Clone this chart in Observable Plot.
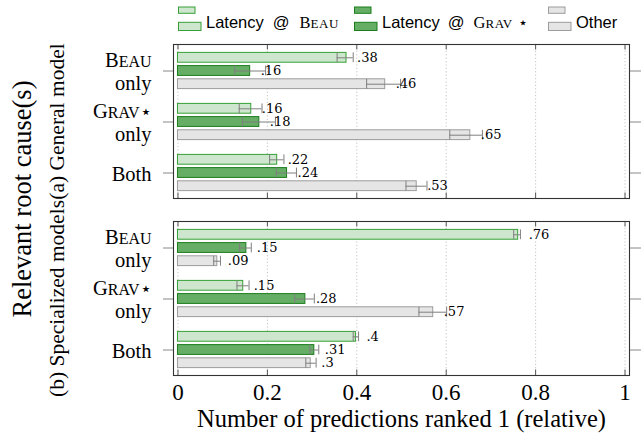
<!DOCTYPE html>
<html><head><meta charset="utf-8">
<script src="https://cdn.jsdelivr.net/npm/d3@7"></script>
<script src="https://cdn.jsdelivr.net/npm/@observablehq/plot@0.6"></script>
<style>
body{margin:0;background:#fff;}
#wrap{position:relative;width:644px;height:439px;overflow:hidden;}
#legend{position:absolute;left:0;top:0;width:644px;height:36px;}
.lg{position:absolute;top:0;white-space:nowrap;font-family:"Liberation Sans",sans-serif;font-size:16.5px;line-height:1;}
.sc{font-family:"Liberation Serif",serif;}
.sc small{font-size:13px;letter-spacing:0.5px;}
</style></head><body>
<div id="wrap"><div id="chart"></div><div id="legend"></div></div>
<script>
// ---- data ----
const panels = ["(a) General model", "(b) Specialized models"];
const groups = ["Beau only", "Grav only", "Both"];
const yTickLabels = ["Beau\nonly", "Grav\u22C6\nonly", "Both"];
const seriesNames = ["Latency @ Beau", "Latency @ Grav", "Other"];
const xTicks = [0, 0.2, 0.4, 0.6, 0.8, 1];
const xTickLabels = ["0", "0.2", "0.4", "0.6", "0.8", "1"];

// (a) General model: one entry per group (Beau only, Grav only, Both)
const generalBeau = [0.377, 0.164, 0.222];
const generalBeauErr = [[0.356, 0.392], [0.137, 0.188], [0.205, 0.237]];
const generalBeauLabels = [".38", ".16", ".22"];
const generalGrav = [0.1615, 0.182, 0.244];
const generalGravErr = [[0.127, 0.196], [0.144, 0.218], [0.220, 0.265]];
const generalGravLabels = [".16", ".18", ".24"];
const generalOther = [0.4635, 0.654, 0.534];
const generalOtherErr = [[0.422, 0.498], [0.608, 0.681], [0.510, 0.557]];
const generalOtherLabels = [".46", ".65", ".53"];

// (b) Specialized models
const specBeau = [0.761, 0.146, 0.398];
const specBeauErr = [[0.751, 0.766], [0.132, 0.159], [0.392, 0.404]];
const specBeauLabels = [".76", ".15", ".4"];
const specGrav = [0.153, 0.285, 0.305];
const specGravErr = [[0.138, 0.164], [0.261, 0.305], [0.295, 0.315]];
const specGravLabels = [".15", ".28", ".31"];
const specOther = [0.088, 0.571, 0.297];
const specOtherErr = [[0.080, 0.095], [0.539, 0.601], [0.286, 0.309]];
const specOtherLabels = [".09", ".57", ".3"];

// ---- styles ----
const fills = ["#cde6cd", "#66ae66", "#e5e5e5"];
const strokes = ["#36a036", "#1b7d1b", "#9c9c9c"];
const slots = [
  {insetTop: 7.4, insetBottom: 33.8, dy: -13.2},
  {insetTop: 20.6, insetBottom: 20.6, dy: 0},
  {insetTop: 33.8, insetBottom: 7.4, dy: 13.2}
];

const table = [
  [generalBeau, generalBeauErr, generalBeauLabels, specBeau, specBeauErr, specBeauLabels],
  [generalGrav, generalGravErr, generalGravLabels, specGrav, specGravErr, specGravLabels],
  [generalOther, generalOtherErr, generalOtherLabels, specOther, specOtherErr, specOtherLabels]
];
const rows = [];
seriesNames.forEach((s, si) => {
  const t = table[si];
  panels.forEach((p, pi) => {
    const vals = t[pi * 3], errs = t[pi * 3 + 1], labs = t[pi * 3 + 2];
    groups.forEach((g, gi) => rows.push({panel: p, group: g, series: s, si,
      value: vals[gi], lo: errs[gi][0], hi: errs[gi][1], label: labs[gi]}));
  });
});

const errColor = "#7f7f7f";
const seriesMarks = seriesNames.flatMap((s, si) => {
  const d = rows.filter(r => r.series === s);
  const sl = slots[si];
  return [
    Plot.barX(d, {fy: "panel", y: "group", x: "value", fill: fills[si], stroke: strokes[si], strokeWidth: 1,
      insetTop: sl.insetTop, insetBottom: sl.insetBottom}),
    Plot.ruleY(d, {fy: "panel", y: "group", x1: "lo", x2: "hi", dy: sl.dy, stroke: errColor, strokeWidth: 1}),
    Plot.tickX(d, {fy: "panel", y: "group", x: "lo", insetTop: sl.insetTop, insetBottom: sl.insetBottom, stroke: errColor}),
    Plot.tickX(d, {fy: "panel", y: "group", x: "hi", insetTop: sl.insetTop, insetBottom: sl.insetBottom, stroke: errColor}),
    Plot.text(d, {fy: "panel", y: "group", x: "value", text: "label", dx: 10.5, dy: sl.dy, textAnchor: "start",
      fontFamily: "DejaVu Serif", fontSize: 13, fill: "black"})
  ];
});

const chart = Plot.plot({
  width: 644, height: 439,
  marginTop: 43, marginBottom: 64, marginLeft: 173, marginRight: 15,
  style: {fontFamily: "'Liberation Serif', serif", fontSize: "20px", color: "black", background: "white", overflow: "visible"},
  x: {domain: [-0.01, 1.01]},
  y: {domain: groups, paddingInner: 0, paddingOuter: 0},
  fy: {domain: panels, paddingInner: 0.13, paddingOuter: 0, axis: null},
  marks: [
    Plot.ruleX(xTicks, {stroke: "#c4c4c4", strokeDasharray: "1.2,2.2"}),
    ...seriesMarks,
    Plot.ruleX(xTicks, {stroke: "#555", insetBottom: 148.5}),
    Plot.ruleX(xTicks, {stroke: "#555", insetTop: 148.5}),
    Plot.frame({stroke: "#333", strokeWidth: 1.1}),
    Plot.axisY({anchor: "left", tickSize: 10, tickPadding: 12, stroke: "#888", fill: "black", label: null,
      tickFormat: d => yTickLabels[groups.indexOf(d)], fontSize: 20.5, lineHeight: 1.15}),
    Plot.axisY({anchor: "right", tickSize: 11, stroke: "#888", label: null, tickFormat: () => ""}),
    Plot.axisX({anchor: "bottom", ticks: xTicks, tickSize: 0, tickPadding: 8, label: null,
      tickFormat: d => xTickLabels[xTicks.indexOf(d)], fontSize: 23}),
    Plot.axisX({anchor: "bottom", ticks: [], label: "Number of predictions ranked 1 (relative)", labelAnchor: "center",
      labelArrow: "none", labelOffset: 51, fontSize: 24.5}),
    Plot.text(panels, {fy: d => d, text: d => d, frameAnchor: "left", rotate: -90, textAnchor: "middle",
      lineAnchor: "bottom", dx: -110, fontSize: 21.5}),
    Plot.text(["Relevant root cause(s)"], {facet: "super", frameAnchor: "left", rotate: -90, textAnchor: "middle",
      lineAnchor: "bottom", dx: -143, dy: -11, fontSize: 26.5})
  ]
});
document.getElementById("chart").appendChild(chart);

// small caps for system names in tick labels
const NS = "http://www.w3.org/2000/svg";
function smallCaps(el, word, extra) {
  el.textContent = "";
  const a = document.createElementNS(NS, "tspan"); a.textContent = word[0]; el.appendChild(a);
  const b = document.createElementNS(NS, "tspan"); b.setAttribute("font-size", "0.78em"); b.textContent = word.slice(1).toUpperCase(); el.appendChild(b);
  if (extra) { const c = document.createElementNS(NS, "tspan"); c.setAttribute("font-size", "0.95em"); c.textContent = extra; el.appendChild(c); }
}
chart.querySelectorAll("tspan, text").forEach(el => {
  if (el.children.length) return;
  const t = el.textContent;
  if (t === "Beau") smallCaps(el, "Beau");
  else if (t === "Grav\u22C6") smallCaps(el, "Grav", "\u22C6");
});

// legend
const legendItems = [
  {icon: 178, text: 206, html: 'Latency<span style="margin-left:9px">@</span><span class="sc" style="margin-left:10px">B<small>EAU</small></span>'},
  {icon: 354, text: 382, html: 'Latency<span style="margin-left:8px">@</span><span class="sc" style="margin-left:9px">G<small>RAV</small></span><span class="sc" style="margin-left:5px;font-size:16px">\u22C6</span>'},
  {icon: 548, text: 576, html: 'Other'}
];
const lg = document.getElementById("legend");
legendItems.forEach((it, i) => {
  const svg = document.createElementNS(NS, "svg");
  svg.setAttribute("width", 26); svg.setAttribute("height", 34);
  svg.style.position = "absolute"; svg.style.left = (it.icon - 1) + "px"; svg.style.top = "0px";
  svg.innerHTML = `<rect x="1.5" y="7" width="16.5" height="6.3" fill="${fills[i]}" stroke="${strokes[i]}"/>` +
                  `<rect x="1.5" y="22.3" width="22.5" height="8.2" fill="${fills[i]}" stroke="${strokes[i]}"/>`;
  lg.appendChild(svg);
  const d = document.createElement("div");
  d.className = "lg"; d.style.left = it.text + "px"; d.style.top = "14px";
  d.innerHTML = it.html;
  lg.appendChild(d);
});
</script>
</body></html>
